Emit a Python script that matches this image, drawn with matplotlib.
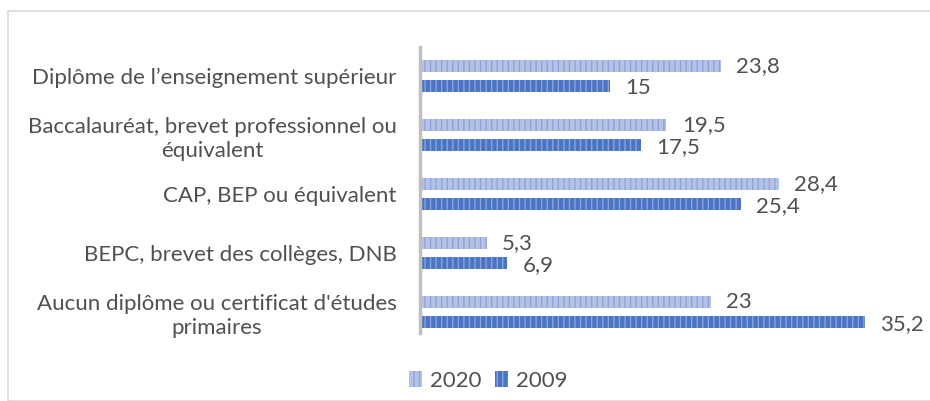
import matplotlib
matplotlib.use("Agg")
import matplotlib.pyplot as plt
from matplotlib.patches import Rectangle, Patch

categories = [
    "Diplôme de l\u2019enseignement supérieur",
    "Baccalauréat, brevet professionnel ou\néquivalent",
    "CAP, BEP ou équivalent",
    "BEPC, brevet des collèges, DNB",
    "Aucun diplôme ou certificat d'études\nprimaires",
]
values_2020 = [23.8, 19.5, 28.4, 5.3, 23.0]
values_2009 = [15.0, 17.5, 25.4, 6.9, 35.2]
labels_2020 = ["23,8", "19,5", "28,4", "5,3", "23"]
labels_2009 = ["15", "17,5", "25,4", "6,9", "35,2"]

plt.rcParams['font.family'] = ['Lato', 'DejaVu Sans']
plt.rcParams['hatch.linewidth'] = 1.0
text_color = "#505050"
fs = 16

W, H = 930, 401
fig = plt.figure(figsize=(W / 100, H / 100), dpi=100)
fig.patch.set_facecolor("white")
fig.patches.append(Rectangle((8 / W, 0), 1.2, 1 - 11 / H, transform=fig.transFigure,
                             fill=False, edgecolor="#d9d9d9", linewidth=1.2))

left, right = 420 / W, 1.0
top, bottom = 46.5, 341.5
ax = fig.add_axes([left, 1 - bottom / H, right - left, (bottom - top) / H])

y = list(range(len(categories)))
h = 0.21
off = 0.17
c2020_face, c2020_hatch = "#b4c2e6", "#8fa3d8"
c2009_face, c2009_hatch = "#4a74c4", "#8aa3dc"

b1 = ax.barh([v - off for v in y], values_2020, height=h, color=c2020_face,
             edgecolor=c2020_hatch, linewidth=0, hatch="|||")
b2 = ax.barh([v + off for v in y], values_2009, height=h, color=c2009_face,
             edgecolor=c2009_hatch, linewidth=0, hatch="|||")

for rect, lab in zip(b1, labels_2020):
    ax.annotate(lab, (rect.get_width(), rect.get_y() + rect.get_height() / 2),
                xytext=(11, 0), textcoords="offset points", va="center", ha="left",
                fontsize=fs, color=text_color)
for rect, lab in zip(b2, labels_2009):
    ax.annotate(lab, (rect.get_width(), rect.get_y() + rect.get_height() / 2),
                xytext=(11, -1.5), textcoords="offset points", va="center", ha="left",
                fontsize=fs, color=text_color)

ax.set_xlim(0, 40.35)
ax.set_ylim(4.5, -0.5)
ax.set_yticks(y)
ax.set_yticklabels(categories, fontsize=fs, color=text_color, multialignment="center",
                   linespacing=1.25)
ax.tick_params(axis="y", length=0, pad=17)
ax.set_xticks([])
for s in ["top", "right", "bottom"]:
    ax.spines[s].set_visible(False)
ax.spines["left"].set_color("#bfbfbf")
ax.spines["left"].set_linewidth(2.5)
ax.spines["left"].set_bounds(-0.5, 4.35)
ax.patch.set_alpha(0)

handles = [Patch(facecolor=c2020_face, edgecolor=c2020_hatch, hatch="|||", linewidth=0, label="2020"),
           Patch(facecolor=c2009_face, edgecolor=c2009_hatch, hatch="|||", linewidth=0, label="2009")]
fig.legend(handles=handles, loc="center", bbox_to_anchor=(488 / W, 1 - 381 / H), ncol=2,
           frameon=False, fontsize=fs, labelcolor=text_color, handlelength=0.6,
           handleheight=0.7, handletextpad=0.35, columnspacing=0.6)

fig.savefig("out.png", dpi=100)
